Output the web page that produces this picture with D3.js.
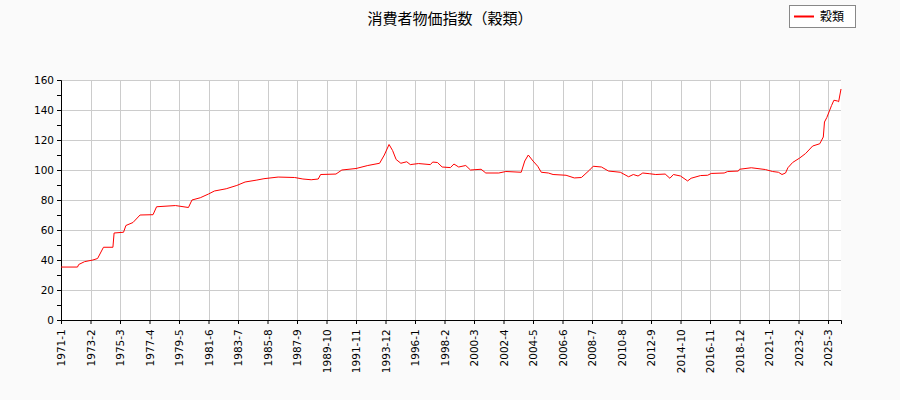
<!DOCTYPE html><html><head><meta charset="utf-8"><script src="https://cdn.jsdelivr.net/npm/d3@7"></script>
<style>body{margin:0;background:#fafafa}</style></head><body><svg id="c" width="900" height="400"></svg><script>
const months=[0,14,15,20,27,31,36,44,45,53,55,61,67,78,81,97,108,111,118,125,130,140,149,156,166,172,184,198,205,212,218,220,233,238,250,260,270,274,278,281,284,288,293,296,303,313,315,319,323,330,333,337,343,347,356,360,371,377,390,393,396,400,404,407,413,417,428,435,441,448,451,458,464,474,481,485,489,493,499,504,512,516,519,525,531,534,542,548,551,562,565,574,575,585,597,603,608,611,614,616,620,626,631,637,643,646,647,649,653,655,658,659,661];
const values=[35.3,35.3,37,38.9,40,41,48.5,48.5,58,58.5,63,65,70,70.2,75.5,76.3,75,80,81.5,84,86,87.5,89.7,92,93.3,94.2,95.3,95,94,93.5,94,97,97.3,100,101,103,104.5,110,117,113,107,104.5,105.5,103.6,104.3,103.6,105.3,105,102,101.6,104,102,103,100,100.5,98,98,99,98.5,106,110,106,102.5,98.5,98,97,96.5,94.7,95,100,102.5,102,99.3,98.5,95.5,97,96,98,97.5,97,97.3,94.5,97,96,92.7,94.5,96.3,96.5,97.7,98,99,99.3,100.5,101.5,100.3,99,98.5,97,98,101.5,105,108,111,116,117.5,122,132,135,143,146.5,146,145.5,154,151.7];
const tickLabels=["1971-1","1973-2","1975-3","1977-4","1979-5","1981-6","1983-7","1985-8","1987-9","1989-10","1991-11","1993-12","1996-1","1998-2","2000-3","2002-4","2004-5","2006-6","2008-7","2010-8","2012-9","2014-10","2016-11","2018-12","2021-1","2023-2","2025-3"];
const yTicks=[0,20,40,60,80,100,120,140,160];
const svg=d3.select("#c");
const x=d3.scaleLinear().domain([0,661]).range([61,841]);
const y=d3.scaleLinear().domain([0,160]).range([320,80]);
svg.append("rect").attr("x",61).attr("y",80).attr("width",780).attr("height",240).attr("fill","#fff");
const g=svg.append("g").attr("stroke","#ccc").attr("stroke-width",1);
yTicks.forEach(v=>g.append("line").attr("x1",61).attr("x2",841).attr("y1",y(v)+.5).attr("y2",y(v)+.5));
tickLabels.forEach((t,i)=>g.append("line").attr("y1",80).attr("y2",320).attr("x1",Math.round(x(i*25))+.5).attr("x2",Math.round(x(i*25))+.5));
const ya=svg.append("g").attr("transform","translate(61,0)").call(d3.axisLeft(y).tickValues(d3.range(0,161,10)).tickSize(4).tickFormat(d=>d%20==0?d:""));
const xa=svg.append("g").attr("transform","translate(0,320)").call(d3.axisBottom(x).tickValues(tickLabels.map((t,i)=>i*25)).tickSize(4).tickFormat((d,i)=>tickLabels[i]));
[ya,xa].forEach(a=>{a.selectAll("text").attr("font-family","DejaVu Sans").attr("font-size",10.5).attr("fill","#000");a.select(".domain").attr("stroke","#000");});
xa.selectAll("text").attr("transform","rotate(-90)").attr("text-anchor","end").attr("dx","-0.5em").attr("dy","0.35em").attr("x",-4).attr("y",0);
const line=d3.line().x((d,i)=>x(months[i])).y(d=>y(d));
svg.append("path").attr("d",line(values)).attr("fill","none").attr("stroke","red").attr("stroke-width",1);
svg.append("text").attr("x",450).attr("y",24).attr("text-anchor","middle").attr("font-family","Noto Sans CJK JP").attr("font-size",15).text("消費者物価指数（穀類）");
svg.append("rect").attr("x",789.5).attr("y",5.5).attr("width",66).attr("height",22).attr("fill","#fff").attr("stroke","#888");
svg.append("line").attr("x1",794).attr("x2",814).attr("y1",16.5).attr("y2",16.5).attr("stroke","red").attr("stroke-width",2);
svg.append("text").attr("x",820).attr("y",21).attr("font-family","Noto Sans CJK JP").attr("font-size",12).text("穀類");
</script></body></html>
